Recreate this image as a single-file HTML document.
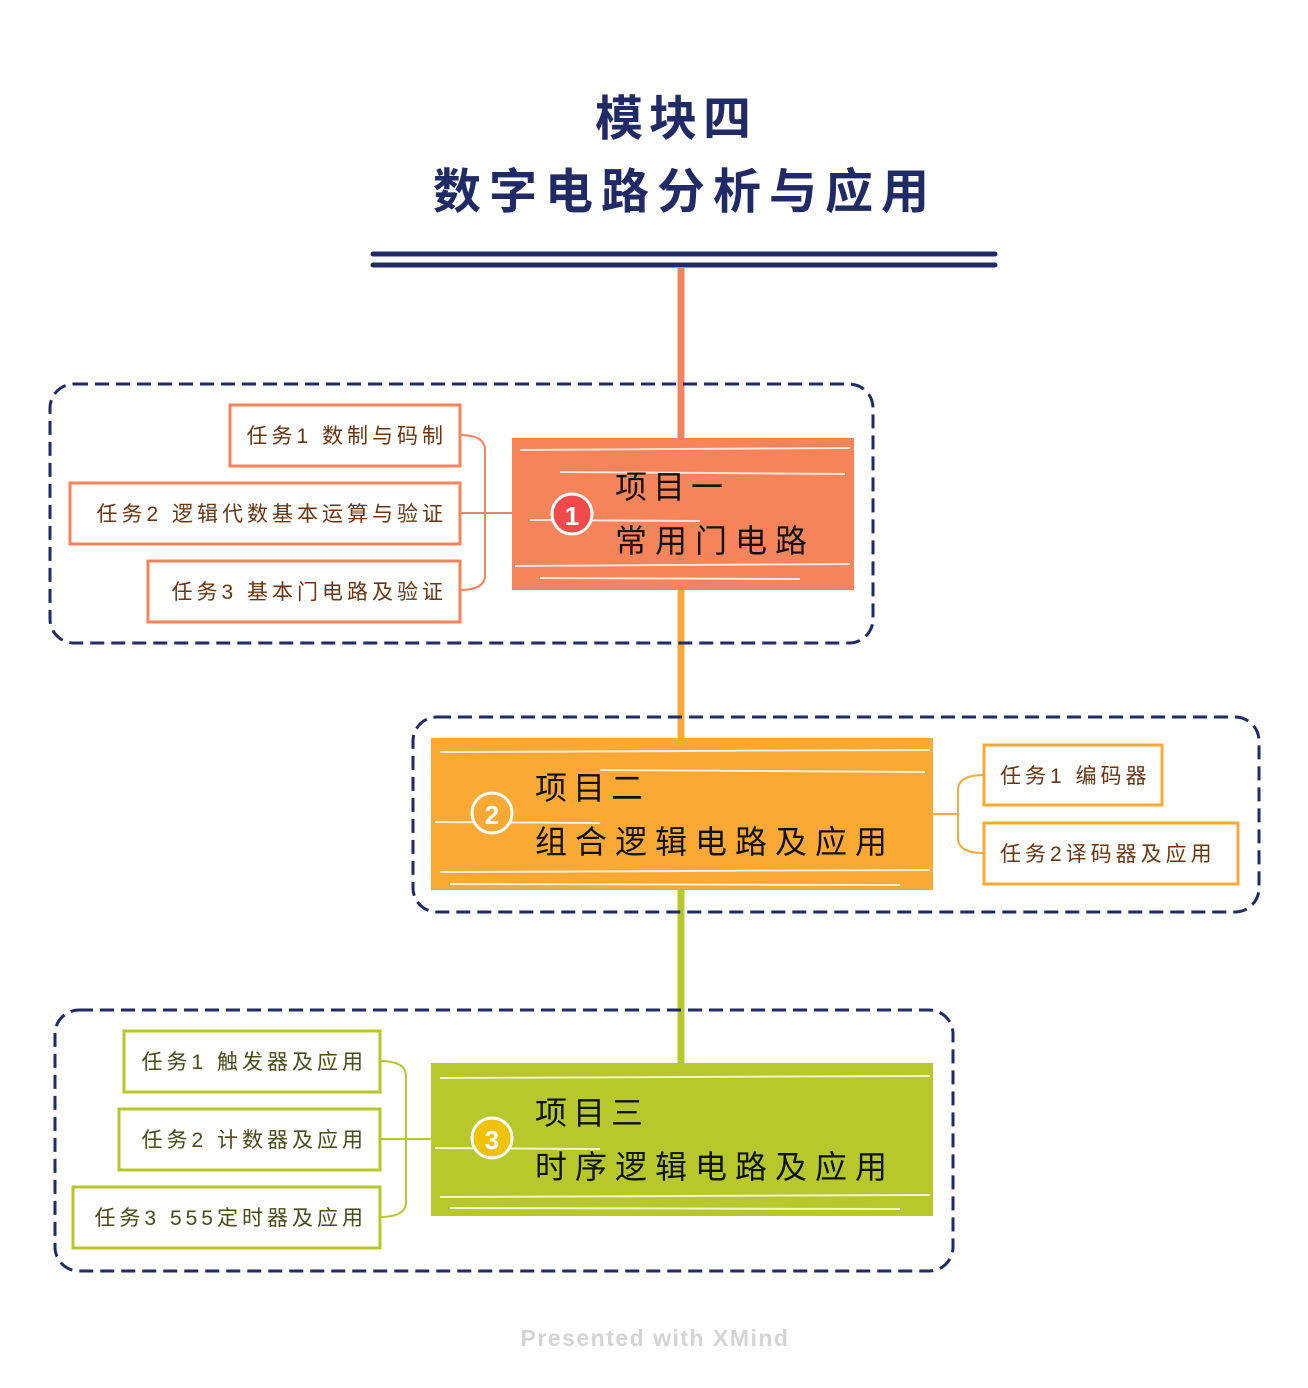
<!DOCTYPE html>
<html><head><meta charset="utf-8"><style>
html,body{margin:0;padding:0;background:#fff;}
svg{display:block;}
text{font-family:"Liberation Sans","Noto Sans CJK SC",sans-serif;}
</style></head><body>
<svg width="1308" height="1388" viewBox="0 0 1308 1388" xmlns="http://www.w3.org/2000/svg">
<text x="676" y="135" text-anchor="middle" font-size="48" font-weight="bold" fill="#1f2a66" letter-spacing="6">模块四</text>
<text x="685" y="208" text-anchor="middle" font-size="48" font-weight="bold" fill="#1f2a66" letter-spacing="8">数字电路分析与应用</text>
<line x1="373" y1="254" x2="995" y2="254" stroke="#1f2a66" stroke-width="5" stroke-linecap="round"/>
<line x1="373" y1="265" x2="995" y2="265" stroke="#1f2a66" stroke-width="5" stroke-linecap="round"/>
<line x1="681" y1="267" x2="681" y2="440" stroke="#f5845a" stroke-width="7"/>
<line x1="681" y1="588" x2="681" y2="740" stroke="#fba935" stroke-width="7"/>
<line x1="681" y1="888" x2="681" y2="1065" stroke="#b6c82c" stroke-width="7"/>

<!-- Box 1 -->
<rect x="50" y="384" width="823" height="259" rx="24" fill="none" stroke="#1f2a66" stroke-width="3" stroke-dasharray="14 7"/>
<path d="M460 435 Q485 435 485 450 V575 Q485 590 460 590 M460 513 H512" fill="none" stroke="#f5845a" stroke-width="2"/>
<g fill="#fff" stroke="#f5845a" stroke-width="3">
<rect x="230" y="405" width="230" height="61"/><rect x="70" y="483" width="390" height="61"/><rect x="148" y="561" width="312" height="61"/></g>
<g font-size="21" fill="#6b3510" text-anchor="end" letter-spacing="4">
<text x="447" y="443">任务1 数制与码制</text>
<text x="447" y="521">任务2 逻辑代数基本运算与验证</text>
<text x="447" y="599">任务3 基本门电路及验证</text></g>
<rect x="512" y="438" width="342" height="152" fill="#f5845a"/>
<g stroke="#fff" stroke-width="2" opacity="0.8"><line x1="520" y1="450" x2="850" y2="448"/><line x1="560" y1="472" x2="845" y2="474"/><line x1="530" y1="520" x2="700" y2="521"/><line x1="515" y1="566" x2="850" y2="564"/><line x1="540" y1="578" x2="800" y2="579"/></g>
<circle cx="572" cy="514" r="20" fill="#f04a4a" stroke="#fff" stroke-width="3"/>
<text x="572" y="525" text-anchor="middle" font-size="26" font-weight="bold" fill="#fff">1</text>
<text x="615" y="498" font-size="32" fill="#111" letter-spacing="6">项目一</text>
<text x="615" y="552" font-size="32" fill="#111" letter-spacing="8">常用门电路</text>

<!-- Box 2 -->
<rect x="413" y="717" width="846" height="195" rx="24" fill="none" stroke="#1f2a66" stroke-width="3" stroke-dasharray="14 7"/>
<path d="M984 775 Q958 775 958 790 V838 Q958 853 984 853 M933 814 H958" fill="none" stroke="#fba935" stroke-width="2"/>
<g fill="#fff" stroke="#fba935" stroke-width="3"><rect x="984" y="745" width="178" height="60"/><rect x="984" y="823" width="254" height="61"/></g>
<g font-size="21" fill="#6b3510" letter-spacing="4"><text x="1000" y="783">任务1 编码器</text><text x="1000" y="861">任务2译码器及应用</text></g>
<rect x="431" y="738" width="502" height="152" fill="#fba935"/>
<g stroke="#fff" stroke-width="2" opacity="0.8"><line x1="440" y1="752" x2="930" y2="750"/><line x1="600" y1="770" x2="925" y2="772"/><line x1="435" y1="822" x2="600" y2="823"/><line x1="440" y1="872" x2="930" y2="870"/><line x1="450" y1="884" x2="900" y2="885"/></g>
<circle cx="492" cy="813" r="20" fill="#fba935" stroke="#fff" stroke-width="3"/>
<text x="492" y="824" text-anchor="middle" font-size="26" font-weight="bold" fill="#fff">2</text>
<text x="535" y="799" font-size="32" fill="#111" letter-spacing="6">项目二</text>
<text x="535" y="853" font-size="32" fill="#111" letter-spacing="8">组合逻辑电路及应用</text>

<!-- Box 3 -->
<rect x="55" y="1010" width="898" height="261" rx="24" fill="none" stroke="#1f2a66" stroke-width="3" stroke-dasharray="14 7"/>
<path d="M380 1061 Q406 1061 406 1076 V1202 Q406 1217 380 1217 M380 1139 H433" fill="none" stroke="#b6c82c" stroke-width="2"/>
<g fill="#fff" stroke="#b6c82c" stroke-width="3"><rect x="124" y="1031" width="256" height="61"/><rect x="119" y="1109" width="261" height="61"/><rect x="73" y="1187" width="307" height="61"/></g>
<g font-size="21" fill="#4a4a1a" text-anchor="end" letter-spacing="4"><text x="367" y="1069">任务1 触发器及应用</text><text x="367" y="1147">任务2 计数器及应用</text><text x="367" y="1225">任务3 555定时器及应用</text></g>
<rect x="431" y="1063" width="502" height="153" fill="#b6c82c"/>
<g stroke="#fff" stroke-width="2" opacity="0.8"><line x1="440" y1="1078" x2="930" y2="1076"/><line x1="435" y1="1148" x2="600" y2="1149"/><line x1="440" y1="1197" x2="930" y2="1195"/><line x1="450" y1="1208" x2="900" y2="1209"/></g>
<circle cx="492" cy="1138" r="20" fill="#f0c20c" stroke="#fff" stroke-width="3"/>
<text x="492" y="1149" text-anchor="middle" font-size="26" font-weight="bold" fill="#fff">3</text>
<text x="535" y="1124" font-size="32" fill="#111" letter-spacing="6">项目三</text>
<text x="535" y="1178" font-size="32" fill="#111" letter-spacing="8">时序逻辑电路及应用</text>

<text x="655" y="1346" text-anchor="middle" font-size="23" font-weight="bold" fill="#d4d4d4" letter-spacing="1.5">Presented with XMind</text>
</svg>
</body></html>
